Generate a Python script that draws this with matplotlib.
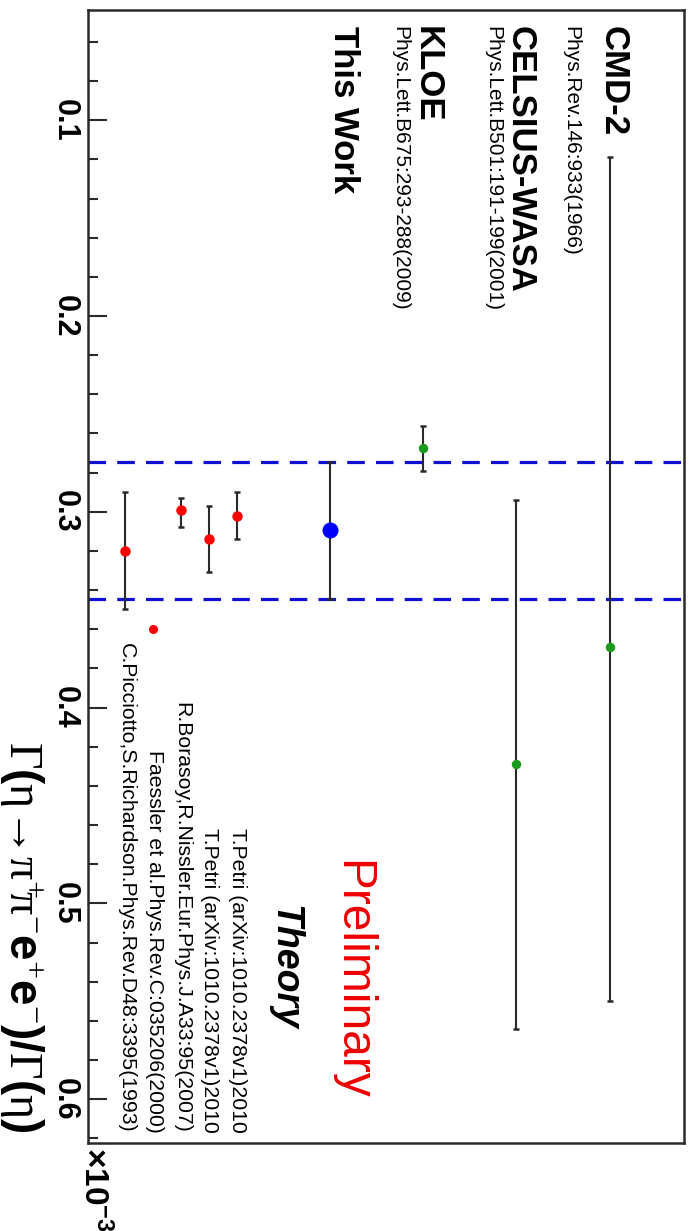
import matplotlib
matplotlib.use("Agg")
import matplotlib.pyplot as plt
import numpy as np

plt.rcParams['font.family'] = ['Liberation Sans', 'DejaVu Sans']
plt.rcParams['mathtext.fontset'] = 'custom'
plt.rcParams['mathtext.rm'] = 'Liberation Serif'
plt.rcParams['mathtext.sf'] = 'Liberation Sans:bold'
plt.rcParams['mathtext.bf'] = 'Liberation Sans:bold'
plt.rcParams['mathtext.default'] = 'rm'

# ---------------- data (units of 1e-3) ----------------
exp_names = ["CMD-2", "CELSIUS-WASA", "KLOE", "This Work"]
exp_refs = ["Phys.Rev.146:933(1966)", "Phys.Lett.B501:191-199(2001)",
            "Phys.Lett.B675:293-288(2009)", ""]
exp_vals = [0.369, 0.429, 0.2675, 0.3095]
exp_err_lo = [0.250, 0.135, 0.0115, 0.035]
exp_err_hi = [0.181, 0.135, 0.0115, 0.035]

th_labels = ["T.Petri (arXiv:1010.2378v1)2010",
             "T.Petri (arXiv:1010.2378v1)2010",
             "R.Borasoy,R.Nissler.Eur.Phys.J.A33:95(2007)",
             "Faessler et al.Phys.Rev.C:035206(2000)",
             "C.Picciotto,S.Richardson.Phys.Rev.D48:3395(1993)"]
th_vals = [0.302, 0.314, 0.299, 0.360, 0.320]
th_err_lo = [0.012, 0.017, 0.006, 0.0, 0.030]
th_err_hi = [0.012, 0.017, 0.0087, 0.0, 0.0295]

major_ticks = [0.1, 0.2, 0.3, 0.4, 0.5, 0.6]
major_labels = ["0.1", "0.2", "0.3", "0.4", "0.5", "0.6"]

# ---------------- layout ----------------
exp_pos = [5.6, 4.6, 3.6, 2.6]
th_pos = [1.6, 1.3, 1.0, 0.7, 0.4]
name_off = [-0.06, -0.06, -0.06, 0.04]
ref_off = [-0.47, -0.31, -0.31, 0.0]
exp_colors = ['#1a9a1a', '#1a9a1a', '#1a9a1a', '#0000ff']
exp_msize = [5.8, 5.8, 5.8, 10.5]
th_msize = [6.5, 6.5, 6.5, 5.5, 6.5]

W, H = 691, 1231
fig = plt.figure(figsize=(W / 100, H / 100), dpi=100)
ax = fig.add_axes([88 / W, (H - 1143) / H, (684 - 88) / W, (1143 - 10) / H])
ax.set_xlim(0, 6.4)
ax.set_ylim(0.6224, 0.0437)

ebar_col = '#2a2a2a'
for p, v, lo, hi, c, ms in zip(exp_pos, exp_vals, exp_err_lo, exp_err_hi, exp_colors, exp_msize):
    ax.errorbar([p], [v], yerr=[[lo], [hi]], fmt='o', color=c, ms=ms, mec=c,
                ecolor=ebar_col, elinewidth=1.5, capsize=2.2, capthick=1.8, zorder=3)

for p, v, lo, hi, ms in zip(th_pos, th_vals, th_err_lo, th_err_hi, th_msize):
    if lo > 0 or hi > 0:
        ax.errorbar([p], [v], yerr=[[lo], [hi]], fmt='o', color='#ff0000', ms=ms,
                    mec='#ff0000', ecolor=ebar_col, elinewidth=1.5, capsize=2.2,
                    capthick=1.8, zorder=3)
    else:
        ax.plot([p], [v], 'o', color='#ff0000', ms=ms, zorder=3)

# band of this work
tw = exp_names.index("This Work")
for yv in (exp_vals[tw] - exp_err_lo[tw], exp_vals[tw] + exp_err_hi[tw]):
    ax.axhline(yv, color='#1010d0', lw=2.3, ls=(0, (5.5, 3.5)), zorder=2)

# experiment labels
for p, name, ref, no, ro in zip(exp_pos, exp_names, exp_refs, name_off, ref_off):
    ax.text(p + no, 0.052, name, rotation=-90, rotation_mode='anchor',
            ha='left', va='baseline', fontsize=25, fontweight='bold')
    if ref:
        ax.text(p + ro, 0.052, ref, rotation=-90, rotation_mode='anchor',
                ha='left', va='baseline', fontsize=15)

# theory labels
for p, lab in zip(th_pos, th_labels):
    ax.text(p - 0.05, 0.617, lab, rotation=-90, rotation_mode='anchor',
            ha='right', va='baseline', fontsize=15.3)

ax.text(2.0, 0.501, "Theory", rotation=-90, rotation_mode='anchor',
        ha='left', va='baseline', fontsize=27, fontweight='bold', fontstyle='italic')
ax.text(2.7, 0.478, "Preliminary", rotation=-90, rotation_mode='anchor',
        ha='left', va='baseline', fontsize=34.5, color='#ee0000')

# axis title and multiplier
ax.text(-0.84, 0.617,
        r'$\Gamma\mathsf{(}\eta\!\rightarrow\!\pi^{+}\!\pi^{-}\mathsf{e}^{+}\mathsf{e}^{-}\mathsf{)/}\Gamma\mathsf{(}\eta\mathsf{)}$',
        rotation=-90, rotation_mode='anchor', ha='right', va='baseline',
        fontsize=33, clip_on=False)
ax.text(-0.04, 0.6245, r'$\mathbf{\times10^{-3}}$', rotation=-90, rotation_mode='anchor',
        ha='left', va='baseline', fontsize=24, clip_on=False)

# axes styling
ax.set_xticks([])
ax.set_yticks(major_ticks)
ax.set_yticklabels(major_labels)
ax.set_yticks(np.arange(0.06, 0.621, 0.02), minor=True)
ax.tick_params(axis='y', which='major', direction='in', length=14, width=1.5,
               color='#2a2a2a', pad=6)
ax.tick_params(axis='y', which='minor', direction='in', length=7, width=1.5,
               color='#2a2a2a')
for lab in ax.get_yticklabels():
    lab.set_rotation(-90)
    lab.set_va('center')
    lab.set_fontweight('bold')
    lab.set_fontsize(22)
for s in ax.spines.values():
    s.set_linewidth(1.8)
    s.set_color('#2a2a2a')

fig.savefig("out.png", dpi=100)
